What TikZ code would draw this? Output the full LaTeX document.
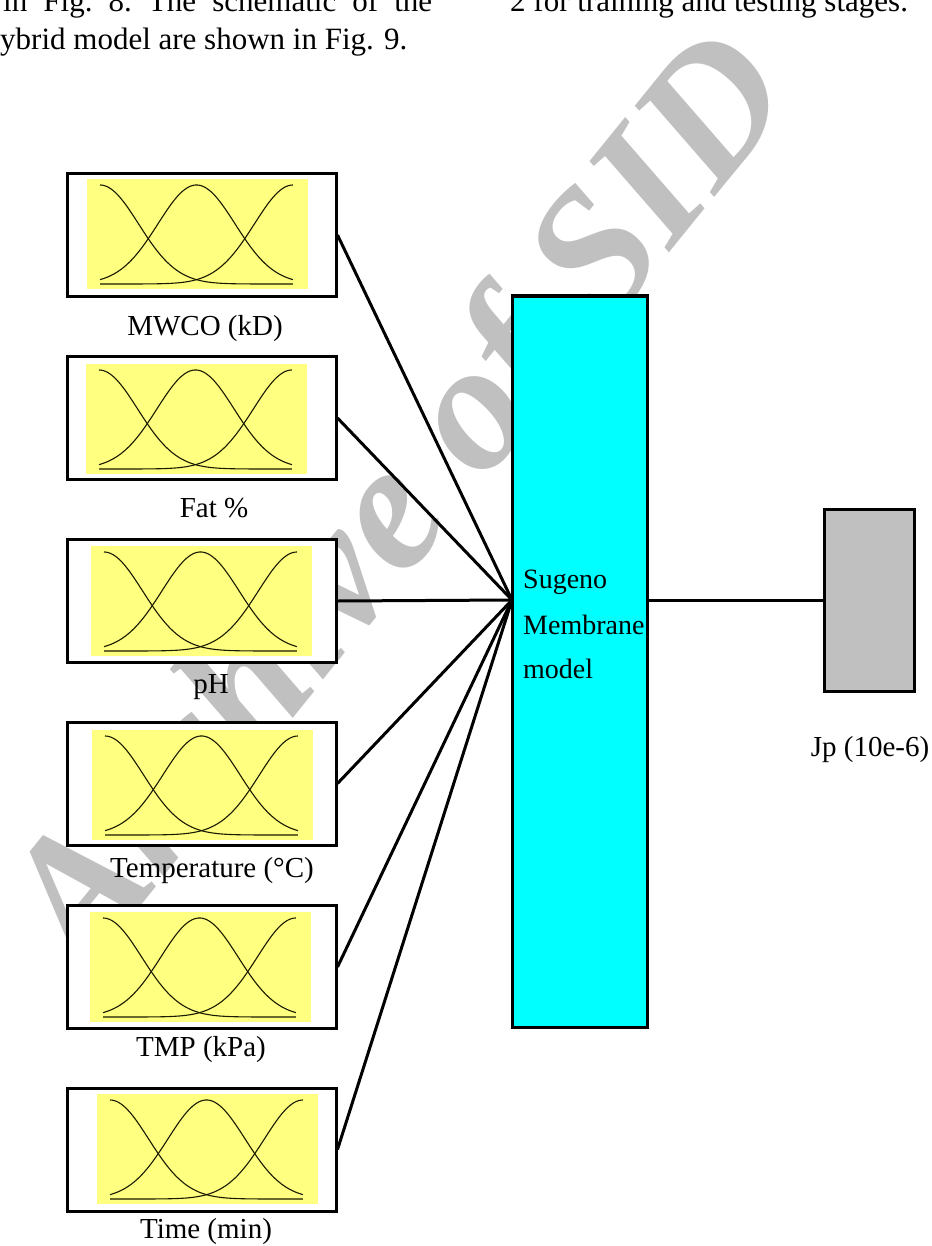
\documentclass[tikz,border=0pt]{standalone}
\usepackage{fontspec}
\setmainfont{Liberation Serif}
\definecolor{mfyellow}{HTML}{FFFF80}
\definecolor{hubcyan}{HTML}{00FFFF}
\definecolor{outgrey}{HTML}{C0C0C0}
\definecolor{wmgrey}{HTML}{C0C0C0}
\definecolor{mfcurve}{HTML}{1A1A00}
\newcommand\mfpanel[2]{%
  \fill[mfyellow] (#1,#2) rectangle ++(221,110);
  \foreach \cc in {0,0.5,1}{
    \draw[mfline] plot[domain=0:1,samples=90,smooth]
      ({#1+13+193*\x},{#2+105-99*exp(-((\x-\cc)*(\x-\cc))/0.08)});
  }%
}
\begin{document}
\begin{tikzpicture}[x=1pt,y=-1pt,
  inbox/.style={draw, line width=3pt, fill=white, minimum width=269pt, minimum height=123pt, inner sep=0},
  hubbox/.style={draw, line width=3pt, fill=hubcyan, minimum width=135pt, minimum height=731pt, inner sep=0},
  outbox/.style={draw, line width=3pt, fill=outgrey, minimum width=90pt, minimum height=182pt, inner sep=0},
  lbl/.style={anchor=base, inner sep=0, font=\fontsize{29}{34}\selectfont},
  hubtxt/.style={anchor=base west, inner sep=0, font=\fontsize{28}{32}\selectfont},
  bodytxt/.style={anchor=base west, inner sep=0, font=\fontsize{31}{37}\selectfont},
  conn/.style={line width=3pt},
  mfline/.style={draw=mfcurve, line width=1.1pt}
]
\useasboundingbox (0,0) rectangle (931,1246);

% watermark
\node[rotate=51, text=wmgrey, inner sep=0, font=\fontsize{182}{182}\selectfont\bfseries\itshape] (wm) at (407,506) {Archive of SID};

% page text above the figure
\node[bodytxt] (t1) at (3,12) {\hbox to 429pt{in\hfill Fig.\hfill 8.\hfill The\hfill schematic\hfill of\hfill the}};
\node[bodytxt] (t2) at (0,50) {ybrid model are shown in Fig. 9.};
\node[bodytxt] (t3) at (510,12) {2 for training and testing stages.};

% input boxes
\node[inbox] (in1) at (201.5,235) {};
\node[inbox] (in2) at (201.5,418) {};
\node[inbox] (in3) at (201.5,601) {};
\node[inbox] (in4) at (201.5,783.5) {};
\node[inbox] (in5) at (201.5,967) {};
\node[inbox] (in6) at (201.5,1149.5) {};

\mfpanel{87}{179}
\mfpanel{86}{364}
\mfpanel{91}{546}
\mfpanel{92}{730}
\mfpanel{90}{912}
\mfpanel{97}{1094}

\node[lbl] (l1) at (205,335) {MWCO (kD)};
\node[lbl] (l2) at (214,517) {Fat \%};
\node[lbl] (l3) at (211,693) {pH};
\node[lbl] (l4) at (212,877) {Temperature (°C)};
\node[lbl] (l5) at (201,1056) {TMP (kPa)};
\node[lbl] (l6) at (206,1238) {Time (min)};

% Sugeno box
\node[hubbox] (sug) at (579.5,661.5) {};
\node[hubtxt] (s1) at (523,588) {Sugeno};
\node[hubtxt] (s2) at (523,634) {Membrane};
\node[hubtxt] (s3) at (523,678) {model};

% output box
\node[outbox] (out) at (869,600) {};
\node[lbl] (lo) at (870,756) {Jp (10e-6)};

\coordinate (hub) at (512,600);
\foreach \i in {1,...,6}{\draw[conn] (in\i.east) -- (hub);}
\draw[conn] (sug.east |- out.west) -- (out.west);
\end{tikzpicture}
\end{document}
